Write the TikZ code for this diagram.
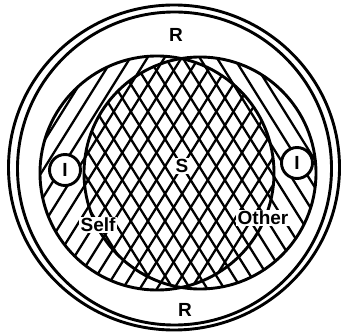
\documentclass[tikz,border=0pt]{standalone}
\usepackage{fontspec}
\setmainfont{Liberation Sans}
\usetikzlibrary{calc}
\tikzset{
  ring/.style={line width=2.9pt},
  hatchline/.style={line width=2.3pt},
  lab/.style={font=\fontsize{19}{19}\selectfont\bfseries, fill=white, inner sep=1.2pt},
  icirc/.style={circle, draw, line width=2.9pt, fill=white, minimum size=31pt, inner sep=0pt, font=\fontsize{19}{19}\selectfont\bfseries}
}
\begin{document}
\begin{tikzpicture}[x=1pt,y=1pt]
\useasboundingbox[fill=white] (0,0) rectangle (343,335);
% outer rings
\draw[ring] (174,167.5) ellipse [x radius=165.5, y radius=162.5];
\draw[ring] (174.5,166.5) ellipse [x radius=157, y radius=156.5];
% Self hatching
\coordinate (selfc) at (157,162);
\coordinate (otherc) at (200,162);
\begin{scope}
  \clip (selfc) circle (117);
  \foreach \k in {-16,...,16} {
    \draw[hatchline, rotate around={58:(178,162)}] (-30,162+\k*14.5) -- (390,162+\k*14.5);
  }
\end{scope}
\begin{scope}
  \clip (otherc) circle (116);
  \foreach \k in {-16,...,16} {
    \draw[hatchline, rotate around={-58:(178,162)}] (-30,162+\k*14.5+7) -- (390,162+\k*14.5+7);
  }
\end{scope}
\draw[ring] (selfc) circle (117);
\draw[ring] (otherc) circle (116);
% labels
\node[icirc] (il) at (65,165) {I};
\node[icirc] (ir) at (297,172) {I};
\node[lab] (s) at (182,169) {S};
\node[lab] (self) at (98,110) {Self};
\node[lab] (other) at (263,117) {Other};
\node[lab, fill=none] (rt) at (176,300) {R};
\node[lab, fill=none] (rb) at (185,25) {R};
\end{tikzpicture}
\end{document}
